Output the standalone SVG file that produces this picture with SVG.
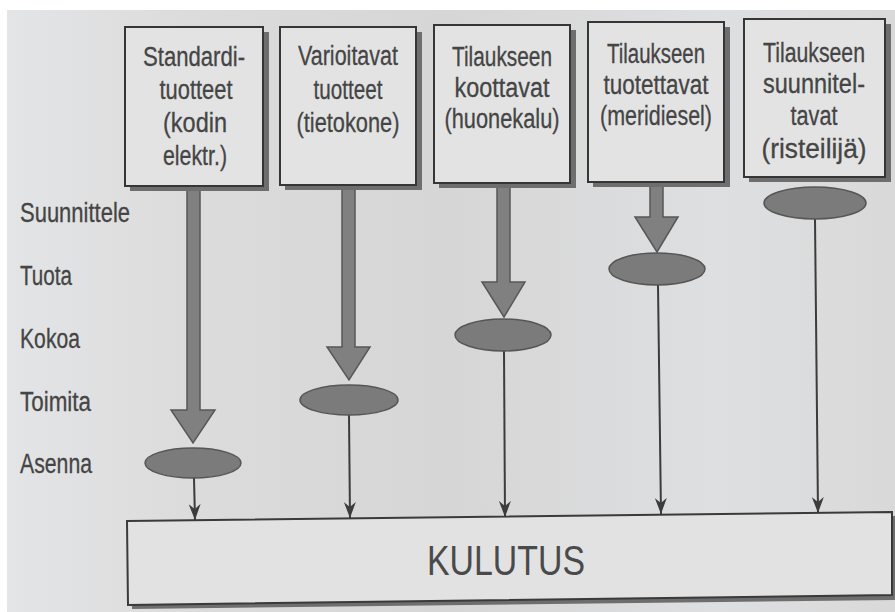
<svg xmlns="http://www.w3.org/2000/svg" width="895" height="612" viewBox="0 0 895 612">
<defs>
<linearGradient id="bg" x1="0" y1="0" x2="1" y2="0">
<stop offset="0" stop-color="#e4e5e7"/>
<stop offset="0.2" stop-color="#dcdcdc"/>
<stop offset="0.5" stop-color="#d6d6d6"/>
<stop offset="0.8" stop-color="#dedfe1"/>
<stop offset="1" stop-color="#d9d9d9"/>
</linearGradient>
<marker id="ah" markerWidth="16" markerHeight="12" refX="16" refY="6" orient="auto" markerUnits="userSpaceOnUse" viewBox="0 0 16 12">
<path d="M0,0 L16,6 L0,12 L5,6 Z" fill="#3c3c3c"/>
</marker>
<style>
.box{fill:#e3e3e3;stroke:#363636;stroke-width:2}
.shadow{fill:#6e6e6e}
.t{font-family:"Liberation Sans",Arial,sans-serif;font-size:27px;fill:#454545;stroke:#454545;stroke-width:0.3;text-anchor:middle}
.row{font-family:"Liberation Sans",Arial,sans-serif;font-size:27px;fill:#454545;stroke:#454545;stroke-width:0.3}
.big{fill:#808080;stroke:#575757;stroke-width:1.5}
.ell{fill:#7b7b7b;stroke:#565656;stroke-width:1.5}
.thin{stroke:#3c3c3c;stroke-width:2;fill:none}
</style>
</defs>
<rect x="0" y="0" width="895" height="612" fill="url(#bg)"/>
<rect x="0" y="0" width="895" height="10" fill="#ffffff"/>
<rect x="0" y="0" width="7" height="612" fill="#ffffff"/>

<g id="row-labels">
<text class="row" x="20" y="222" textLength="110" lengthAdjust="spacingAndGlyphs">Suunnittele</text>
<text class="row" x="20" y="285" textLength="52" lengthAdjust="spacingAndGlyphs">Tuota</text>
<text class="row" x="20" y="348" textLength="60" lengthAdjust="spacingAndGlyphs">Kokoa</text>
<text class="row" x="20" y="411" textLength="71" lengthAdjust="spacingAndGlyphs">Toimita</text>
<text class="row" x="20" y="473" textLength="72" lengthAdjust="spacingAndGlyphs">Asenna</text>
</g>

<g id="connectors">
<path class="big" d="M187,186 L200,186 L200,410 L215,410 L193,443 L171,410 L187,410 Z"/>
<path class="big" d="M342,185 L355,185 L355,347 L370,347 L349,380 L327,347 L342,347 Z"/>
<path class="big" d="M497,183 L510,183 L510,282 L525,282 L504,317 L482,282 L497,282 Z"/>
<path class="big" d="M650,182 L663,182 L663,217 L678,217 L657,252 L635,217 L650,217 Z"/>
<line class="thin" x1="194" y1="478" x2="195" y2="520" marker-end="url(#ah)"/>
<line class="thin" x1="349" y1="415" x2="350" y2="518" marker-end="url(#ah)"/>
<line class="thin" x1="504" y1="351" x2="505" y2="517" marker-end="url(#ah)"/>
<line class="thin" x1="658" y1="285" x2="661" y2="514" marker-end="url(#ah)"/>
<line class="thin" x1="815" y1="219" x2="818" y2="513" marker-end="url(#ah)"/>
</g>

<g id="node-standardi">
<rect class="shadow" x="130" y="32" width="139" height="159"/>
<rect class="box" x="125" y="27" width="138" height="159"/>
<text class="t" x="194" y="66" textLength="102" lengthAdjust="spacingAndGlyphs">Standardi-</text>
<text class="t" x="196" y="99" textLength="73" lengthAdjust="spacingAndGlyphs">tuotteet</text>
<text class="t" x="195" y="132" textLength="64" lengthAdjust="spacingAndGlyphs">(kodin</text>
<text class="t" x="195" y="165" textLength="64" lengthAdjust="spacingAndGlyphs">elektr.)</text>
</g>
<g id="node-varioitavat">
<rect class="shadow" x="285" y="32" width="137" height="158"/>
<rect class="box" x="280" y="27" width="136" height="158"/>
<text class="t" x="348" y="65" textLength="100" lengthAdjust="spacingAndGlyphs">Varioitavat</text>
<text class="t" x="348" y="99" textLength="69" lengthAdjust="spacingAndGlyphs">tuotteet</text>
<text class="t" x="348" y="132" textLength="103" lengthAdjust="spacingAndGlyphs">(tietokone)</text>
</g>
<g id="node-koottavat">
<rect class="shadow" x="439" y="30" width="137" height="158"/>
<rect class="box" x="434" y="25" width="136" height="158"/>
<text class="t" x="502" y="66" textLength="100" lengthAdjust="spacingAndGlyphs">Tilaukseen</text>
<text class="t" x="502" y="97" textLength="95" lengthAdjust="spacingAndGlyphs">koottavat</text>
<text class="t" x="502" y="128" textLength="115" lengthAdjust="spacingAndGlyphs">(huonekalu)</text>
</g>
<g id="node-tuotettavat">
<rect class="shadow" x="593" y="27" width="137" height="160"/>
<rect class="box" x="588" y="22" width="136" height="160"/>
<text class="t" x="656" y="63" textLength="98" lengthAdjust="spacingAndGlyphs">Tilaukseen</text>
<text class="t" x="656" y="94" textLength="105" lengthAdjust="spacingAndGlyphs">tuotettavat</text>
<text class="t" x="656" y="125" textLength="112" lengthAdjust="spacingAndGlyphs">(meridiesel)</text>
</g>
<g id="node-suunniteltavat">
<rect class="shadow" x="749" y="24" width="142" height="158"/>
<rect class="box" x="744" y="19" width="141" height="158"/>
<text class="t" x="814" y="62" textLength="102" lengthAdjust="spacingAndGlyphs">Tilaukseen</text>
<text class="t" x="814" y="93" textLength="102" lengthAdjust="spacingAndGlyphs">suunnitel-</text>
<text class="t" x="814" y="125" textLength="47" lengthAdjust="spacingAndGlyphs">tavat</text>
<text class="t" x="814" y="158" textLength="105" lengthAdjust="spacingAndGlyphs">(risteilijä)</text>
</g>

<g id="node-asenna">
<ellipse class="ell" cx="193" cy="463" rx="48" ry="15"/>
</g>
<g id="node-toimita">
<ellipse class="ell" cx="349" cy="400" rx="49" ry="15"/>
</g>
<g id="node-kokoa">
<ellipse class="ell" cx="503" cy="335" rx="48" ry="16"/>
</g>
<g id="node-tuota">
<ellipse class="ell" cx="657" cy="269" rx="48" ry="16"/>
</g>
<g id="node-suunnittele">
<ellipse class="ell" cx="815" cy="203" rx="51" ry="16"/>
</g>

<g id="node-kulutus">
<polygon points="131,525 895,516 895,600 132,609" fill="#6e6e6e"/>
<polygon points="127,521 892,512 892,595 128,605" fill="#e2e2e2" stroke="#3a3a3a" stroke-width="2"/>
<text x="506" y="575" font-family="Liberation Sans, Arial, sans-serif" font-size="42" fill="#4a4a4a" text-anchor="middle" textLength="158" lengthAdjust="spacingAndGlyphs">KULUTUS</text>
</g>
</svg>
